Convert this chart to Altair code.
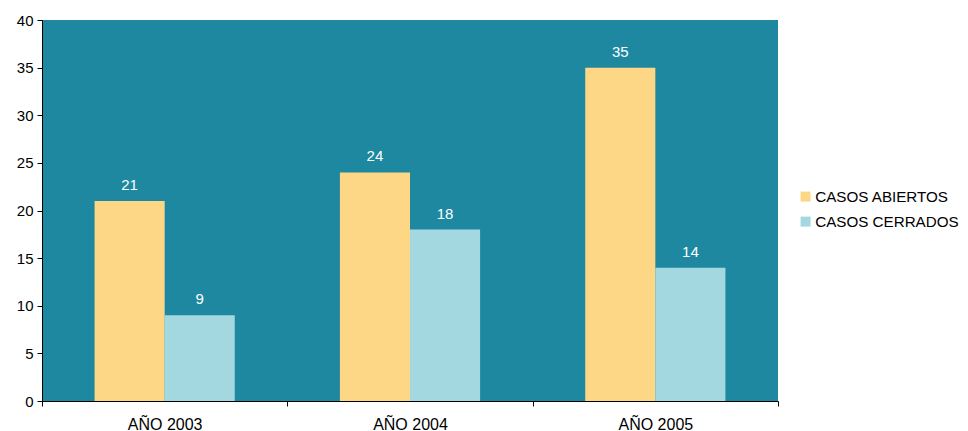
import altair as alt
import pandas as pd

years = ["AÑO 2003", "AÑO 2004", "AÑO 2005"]
series = ["CASOS ABIERTOS", "CASOS CERRADOS"]
abiertos = [21, 24, 35]
cerrados = [9, 18, 14]
colors = ["#FDD785", "#A3D8E0"]

rows = []
for i, y in enumerate(years):
    rows.append({"year": y, "serie": series[0], "value": abiertos[i]})
    rows.append({"year": y, "serie": series[1], "value": cerrados[i]})
df = pd.DataFrame(rows)

FONT = "Liberation Sans"

base = alt.Chart(df).encode(
    x=alt.X("year:N", sort=years, title=None,
            scale=alt.Scale(paddingInner=0, paddingOuter=0),
            axis=alt.Axis(labelAngle=0, tickBand="extent", domainColor="black",
                          tickColor="black", labelColor="black", labelFontSize=16,
                          labelFont=FONT, tickSize=5, labelPadding=10, grid=False)),
    xOffset=alt.XOffset("serie:N", sort=series,
                        scale=alt.Scale(paddingOuter=0.75, paddingInner=0)),
    y=alt.Y("value:Q", title=None,
            scale=alt.Scale(domain=[0, 40]),
            axis=alt.Axis(values=list(range(0, 41, 5)), domainColor="black",
                          tickColor="black", labelColor="black", labelFontSize=15,
                          labelFont=FONT, tickSize=5, labelPadding=4, grid=False)),
)

bars = base.mark_bar().encode(
    color=alt.Color("serie:N", sort=series,
                    scale=alt.Scale(domain=series, range=colors),
                    legend=alt.Legend(title=None, orient="none", legendX=756, legendY=169,
                                      symbolType="square", symbolSize=100,
                                      symbolStrokeWidth=0, labelFontSize=15.2,
                                      labelFont=FONT, labelColor="black",
                                      labelOffset=2, rowPadding=9, symbolOpacity=1))
)

labels = base.mark_text(baseline="bottom", dy=-8, color="white", fontSize=15,
                        font=FONT).encode(text="value:Q")

chart = alt.layer(bars, labels).properties(
    width=736, height=381,
    autosize=alt.AutoSizeParams(type="none"),
    padding={"left": 34, "top": 12, "right": 182, "bottom": 30},
).configure_view(fill="#1E88A0", stroke=None)

chart.save("out.html", embed_options={"renderer": "svg", "actions": False})
